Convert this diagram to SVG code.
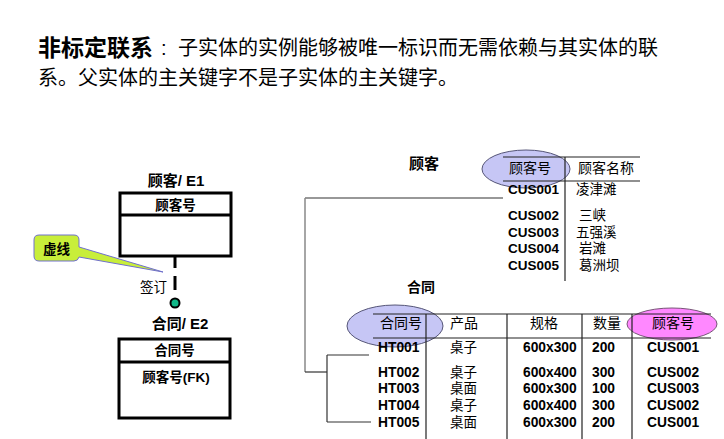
<svg xmlns="http://www.w3.org/2000/svg" width="724" height="439" viewBox="0 0 724 439">
<style>
text{font-family:"Liberation Sans","Noto Sans CJK SC",sans-serif;fill:#000}
.h{font-size:20px}
.ht{font-size:23px;font-weight:bold}
.et{font-size:15px;font-weight:bold}
.ea{font-size:13.5px;font-weight:bold}
.mid{text-anchor:middle}
.box{fill:#fff;stroke:#000;stroke-width:3}
.div{stroke:#000;stroke-width:3}
.tl{stroke:#222;stroke-width:1.2;fill:none}
.cn{font-size:13.5px}
.cnh{font-size:14px}
.d{font-size:13.8px;font-weight:bold}
.pk{fill:#c6c6f5;stroke:#555577;stroke-width:1}
.fk{fill:#ff88ff;stroke:#775577;stroke-width:1}
.cl{stroke:#333;stroke-width:1.2;fill:none}
.cg{stroke:#888;stroke-width:1.5;fill:none}
</style>
<rect width="724" height="439" fill="#fff"/>
<g id="heading">
<text class="ht" x="38" y="56">非标定联系</text>
<text class="h" x="161" y="55">:</text>
<text class="h" x="178" y="55">子实体的实例能够被唯一标识而无需依赖与其实体的联</text>
<text class="h" x="38" y="85">系。父实体的主关键字不是子实体的主关键字。</text>
</g>
<g id="connectors">
<line x1="175" y1="257" x2="175" y2="268" stroke="#000" stroke-width="3"/>
<line x1="175" y1="276" x2="175" y2="290" stroke="#000" stroke-width="3"/>
<circle cx="175" cy="303" r="4.5" fill="#10b888" stroke="#000" stroke-width="2"/>
<line class="cl" x1="305" y1="198" x2="503" y2="198"/>
<line class="cg" x1="305" y1="198" x2="305" y2="372"/>
<line class="cl" x1="305" y1="372" x2="327" y2="372"/>
<line class="cl" x1="327" y1="355" x2="327" y2="422"/>
<line class="cl" x1="327" y1="355" x2="369" y2="355"/>
<line class="cl" x1="327" y1="422" x2="371" y2="422"/>
</g>
<g id="rel-label">
<text class="cn" x="140" y="292">签订</text>
</g>
<g id="callout">
<path d="M39,235 H74 Q79,235 79,240 V247 L163,272 L79,257 Q78,261 74,261 H39 Q34,261 34,256 V240 Q34,235 39,235 Z" fill="#c8ee3a" stroke="#7070cc" stroke-width="1"/>
<text class="cn" x="43" y="254" font-weight="bold">虚线</text>
</g>
<g id="E1">
<text class="et mid" x="176" y="186">顾客/ E1</text>
<rect class="box" x="120" y="193" width="111" height="63"/>
<line class="div" x1="120" y1="215" x2="231" y2="215"/>
<text class="ea mid" x="175.5" y="210">顾客号</text>
</g>
<g id="E2">
<text class="et mid" x="180" y="329">合同/ E2</text>
<rect class="box" x="119" y="339" width="111" height="79"/>
<line class="div" x1="119" y1="362" x2="230" y2="362"/>
<text class="ea mid" x="174.5" y="355">合同号</text>
<text class="ea mid" x="176" y="382">顾客号(FK)</text>
</g>
<g id="customer-table">
<text class="et" x="409" y="169">顾客</text>
<ellipse class="pk" cx="526" cy="169" rx="44" ry="19"/>
<line class="tl" x1="503" y1="157" x2="640" y2="157"/>
<line class="tl" x1="503" y1="181" x2="640" y2="181"/>
<line class="tl" x1="565" y1="157" x2="565" y2="281"/>
<text class="cnh" x="509" y="173">顾客号</text>
<text class="cnh" x="578" y="173">顾客名称</text>
<text class="ea" x="508" y="194">CUS001</text>
<text class="ea" x="508" y="220">CUS002</text>
<text class="ea" x="508" y="237">CUS003</text>
<text class="ea" x="508" y="253">CUS004</text>
<text class="ea" x="508" y="270">CUS005</text>
<text class="cn" x="576" y="194">凌津滩</text>
<text class="cn" x="579" y="220">三峡</text>
<text class="cn" x="576" y="237">五强溪</text>
<text class="cn" x="579" y="253">岩滩</text>
<text class="cn" x="579" y="270">葛洲坝</text>
</g>
<g id="contract-table">
<text class="cnh" x="407" y="292" font-weight="bold">合同</text>
<ellipse class="pk" cx="395" cy="326" rx="48" ry="21"/>
<ellipse class="fk" cx="672" cy="324" rx="45" ry="16"/>
<line class="tl" x1="373" y1="314" x2="711" y2="314"/>
<line class="tl" x1="373" y1="338" x2="711" y2="338"/>
<line class="tl" x1="426" y1="314" x2="426" y2="439"/>
<line class="tl" x1="507" y1="314" x2="507" y2="439"/>
<line class="tl" x1="582" y1="314" x2="582" y2="439"/>
<line class="tl" x1="632" y1="314" x2="632" y2="439"/>
<text class="cnh" x="380" y="328">合同号</text>
<text class="cnh" x="450" y="328">产品</text>
<text class="cnh" x="530" y="328">规格</text>
<text class="cnh" x="593" y="328">数量</text>
<text class="cnh" x="652" y="328">顾客号</text>
<text class="d" x="378" y="352">HT001</text>
<text class="d" x="378" y="377">HT002</text>
<text class="d" x="378" y="393">HT003</text>
<text class="d" x="378" y="410">HT004</text>
<text class="d" x="378" y="427">HT005</text>
<text class="cn" x="450" y="352">桌子</text>
<text class="cn" x="450" y="377">桌子</text>
<text class="cn" x="450" y="393">桌面</text>
<text class="cn" x="450" y="410">桌子</text>
<text class="cn" x="450" y="427">桌面</text>
<text class="d" x="523" y="352">600x300</text>
<text class="d" x="523" y="377">600x400</text>
<text class="d" x="523" y="393">600x300</text>
<text class="d" x="523" y="410">600x400</text>
<text class="d" x="523" y="427">600x300</text>
<text class="d" x="592" y="352">200</text>
<text class="d" x="592" y="377">300</text>
<text class="d" x="592" y="393">100</text>
<text class="d" x="592" y="410">300</text>
<text class="d" x="592" y="427">200</text>
<text class="d" x="647" y="352">CUS001</text>
<text class="d" x="647" y="377">CUS002</text>
<text class="d" x="647" y="393">CUS003</text>
<text class="d" x="647" y="410">CUS002</text>
<text class="d" x="647" y="427">CUS001</text>
</g>
</svg>
